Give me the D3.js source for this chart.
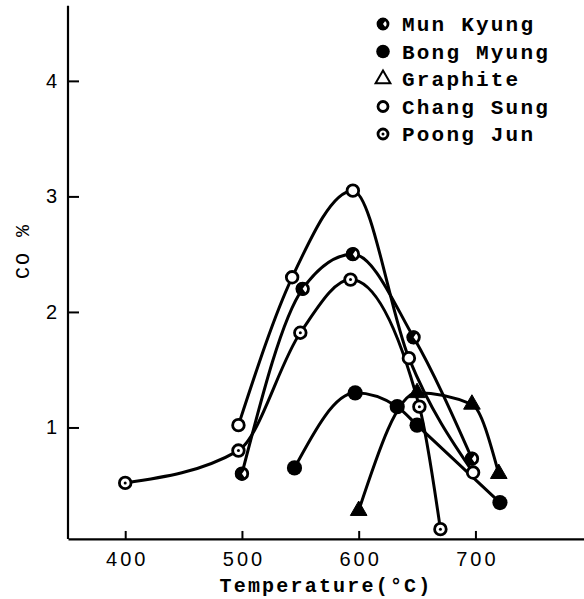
<!DOCTYPE html>
<html>
<head>
<meta charset="utf-8">
<script src="https://cdn.jsdelivr.net/npm/d3@7"></script>
<style>
  body { margin: 0; background: #fff; }
  svg { display: block; }
  .tick text { font-family: "Liberation Sans", Arial, sans-serif; font-size: 20px; fill: #000; }
  .typed { font-family: "Liberation Mono", "DejaVu Sans Mono", monospace; font-weight: bold; fill: #000; }
</style>
</head>
<body>
<svg id="chart"></svg>
<script>
/*************** data **************************************/
var munKyungT   = [500, 552, 595, 647, 697],
    munKyungCO  = [0.60, 2.20, 2.50, 1.78, 0.73];
var bongMyungT  = [545, 597, 633, 650, 721],
    bongMyungCO = [0.65, 1.30, 1.18, 1.02, 0.35];
var graphiteT   = [600, 650, 697, 720],
    graphiteCO  = [0.28, 1.30, 1.20, 0.60];
var changSungT  = [497, 543, 595, 643, 698],
    changSungCO = [1.02, 2.30, 3.05, 1.60, 0.61];
var poongJunT   = [400, 497, 550, 593, 652, 670],
    poongJunCO  = [0.52, 0.80, 1.82, 2.28, 1.18, 0.12];

var xTicks = [400, 500, 600, 700],
    yTicks = [1, 2, 3, 4];

var seriesNames = ["Mun Kyung", "Bong Myung", "Graphite", "Chang Sung", "Poong Jun"],
    seriesMarks = ["half", "filled", "triangle", "open", "dotted"];

/*************** settings *****************/
var width = 584,
    height = 599,
    left = 68,
    xDomain = [351, 793],
    yDomain = [0, 4.7],
    yBase = 0.035,   // where the temperature axis sits
    yTop = 4.65,     // top end of the CO axis line
    lineWidth = 3;

var svg = d3.select("#chart")
  .attr("width", width)
  .attr("height", height);

var x = d3.scaleLinear().domain(xDomain).range([left, width]);
var y = d3.scaleLinear().domain(yDomain).range([543, 0]);

// build the series table from the arrays
var series = [
  [munKyungT, munKyungCO], [bongMyungT, bongMyungCO], [graphiteT, graphiteCO],
  [changSungT, changSungCO], [poongJunT, poongJunCO]
].map(function(s, i) {
  return {
    name: seriesNames[i],
    mark: seriesMarks[i],
    points: s[0].map(function(t, j) { return {t: t, co: s[1][j]}; })
  };
});

/*************** axes *****************/
var xAxis = svg.append("g")
  .attr("transform", "translate(0," + y(yBase) + ")")
  .call(d3.axisBottom(x).tickValues(xTicks).tickSize(-8).tickSizeOuter(0).tickPadding(13));
xAxis.select(".domain").attr("stroke-width", 2.2);
xAxis.selectAll(".tick line").attr("stroke-width", 2);
xAxis.selectAll(".tick text").style("letter-spacing", "3px").attr("dx", 1.5);

var yAxis = svg.append("g")
  .attr("transform", "translate(" + left + ",0)")
  .call(d3.axisLeft(y).tickValues(yTicks).tickFormat(d3.format("d")).tickSize(-11).tickPadding(11));
yAxis.select(".domain").remove();
yAxis.selectAll(".tick line").attr("stroke-width", 2);
yAxis.append("line")
  .attr("x1", 0).attr("x2", 0)
  .attr("y1", y(yBase)).attr("y2", y(yTop))
  .attr("stroke", "#000").attr("stroke-width", 2.2);

svg.append("text")
  .attr("class", "typed")
  .attr("x", (left + width) / 2)
  .attr("y", 592)
  .attr("text-anchor", "middle")
  .style("font-size", "20px")
  .style("letter-spacing", "2.2px")
  .text("Temperature(\u00B0C)");

svg.append("text")
  .attr("class", "typed")
  .attr("transform", "translate(23,251) rotate(-90)")
  .attr("text-anchor", "middle")
  .attr("dominant-baseline", "central")
  .style("font-size", "20px")
  .style("font-weight", "normal")
  .style("letter-spacing", "2px")
  .text("CO %");

/*************** curves *****************/
var line = d3.line()
  .x(function(d) { return x(d.t); })
  .y(function(d) { return y(d.co); })
  .curve(d3.curveMonotoneX);

svg.append("g")
  .selectAll("path")
  .data(series)
  .enter().append("path")
    .attr("d", function(d) { return line(d.points); })
    .attr("fill", "none")
    .attr("stroke", "#000")
    .attr("stroke-width", lineWidth)
    .attr("stroke-linejoin", "round");

/*************** markers *****************/
// draws one marker of the given kind into a group
function marker(g, kind, r, legend) {
  if (kind === "triangle") {
    g.append("path")
      .attr("d", d3.symbol().type(d3.symbolTriangle).size(legend ? 95 : 120)())
      .attr("fill", legend ? "#fff" : "#000")
      .attr("stroke", "#000")
      .attr("stroke-width", legend ? 2 : 1);
    return;
  }
  if (kind === "filled") {
    g.append("circle").attr("r", r + 1.8).attr("fill", "#000");
    return;
  }
  g.append("circle")
    .attr("r", r)
    .attr("fill", "#fff")
    .attr("stroke", "#000")
    .attr("stroke-width", 2.8);
  if (kind === "half") {
    g.append("path")
      .attr("d", d3.arc().innerRadius(0).outerRadius(r + 1)
        .startAngle(Math.PI * 0.8).endAngle(Math.PI * 2.2)())
      .attr("fill", "#000");
  }
  if (kind === "dotted") {
    g.append("circle").attr("r", 1.5).attr("fill", "#000");
  }
}

series.forEach(function(s) {
  svg.append("g")
    .selectAll("g")
    .data(s.points)
    .enter().append("g")
      .attr("transform", function(d) { return "translate(" + x(d.t) + "," + y(d.co) + ")"; })
      .each(function() { marker(d3.select(this), s.mark, 5.8, false); });
});

/*************** legend *****************/
var legend = svg.append("g").attr("transform", "translate(383,24)");
var rows = legend.selectAll("g")
  .data(series)
  .enter().append("g")
    .attr("transform", function(d, i) { return "translate(0," + (i * 27.5) + ")"; });

rows.each(function(d) { marker(d3.select(this), d.mark, 5, true); });

rows.append("text")
  .attr("class", "typed")
  .attr("x", 19)
  .attr("dy", "0.35em")
  .style("font-size", "21px")
  .style("letter-spacing", "2.2px")
  .text(function(d) { return d.name; });
</script>
</body>
</html>
